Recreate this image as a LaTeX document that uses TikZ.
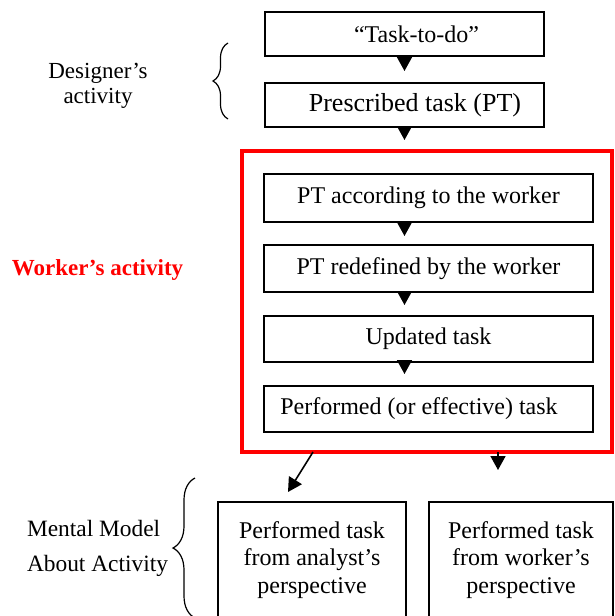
\documentclass[tikz,border=0pt]{standalone}
\usepackage{fontspec}
\setmainfont{Liberation Serif}
\usetikzlibrary{arrows.meta,decorations.pathreplacing}

\begin{document}
\begin{tikzpicture}[x=0.5pt, y=-0.5pt]
		\tikzset{
			every node/.style={
				align=center,
				inner sep=0pt,
				outer sep=0pt,
				font=\fontsize{12}{13.75}\selectfont
			},
			box/.style={
				draw,
				rectangle,
				line width=1pt
			},
			frame/.style={
				draw=red,
				rectangle,
				line width=2.2pt
			},
			line/.style={
				-{Triangle[width=7.5pt,length=7pt]},
				line width=0.8pt
			},
			brace/.style={
				decorate,
				line width=0.6pt
			}
		}

		\useasboundingbox (0,0) rectangle (615,616);
		\clip (0,0) rectangle (615,616);

		\node[frame, minimum width=185pt, minimum height=150.5pt] (frame) at (427,301.5)
			{};

		\node[box, minimum width=139.5pt, minimum height=22pt] (todo) at (404.5,34)
			{\hspace*{12pt}“Task-to-do”};
		\node[box, minimum width=139.5pt, minimum height=22pt,
			font=\fontsize{13}{15}\selectfont] (pt) at (404.5,105)
			{\hspace*{10.5pt}\raisebox{-1.5pt}{Prescribed task (PT)}};

		\node[box, minimum width=164.5pt, minimum height=24pt] (ptw) at (428.5,198)
			{PT according to the worker};
		\node[box, minimum width=164.5pt, minimum height=23.5pt] (ptr) at (428.5,268.5)
			{PT redefined by the worker};
		\node[box, minimum width=164.5pt, minimum height=23pt] (upd) at (428.5,339)
			{Updated task};
		\node[box, minimum width=164.5pt, minimum height=23pt] (perf) at (428.5,409)
			{Performed (or effective) task\hspace*{9.5pt}};

		\node[box, minimum width=94pt, minimum height=59pt] (an) at (312,561)
			{Performed task\\ from analyst’s\\ perspective\\[-10pt]};
		\node[box, minimum width=92pt, minimum height=59pt] (wk) at (521,561)
			{Performed task\\ from worker’s\\ perspective\\[-10pt]};

		\node[font=\fontsize{11.5}{12.5}\selectfont] (designer) at (98,86)
			{Designer’s\\ activity};
		\node[text=red, font=\fontsize{11.5}{13}\selectfont\bfseries] (worker) at (97.5,270)
			{Worker’s activity};
		\node[align=left, anchor=west, font=\fontsize{11.7}{17.5}\selectfont] (mental) at (27,548)
			{Mental Model\\ About Activity};

		\draw[line, shorten >=6pt] (todo) -- (pt);
		\draw[line, shorten >=5.5pt] (pt) -- (frame.north -| pt);

		\draw[line, shorten >=4.5pt] (ptw.south -| pt) -- (ptr.north -| pt);
		\draw[line, shorten >=5.5pt] (ptr.south -| pt) -- (upd.north -| pt);
		\draw[line, shorten >=6pt] (upd.south -| pt) -- (perf.north -| pt);

		\draw[line] ([xshift=0.5pt]an.north |- frame.south) -- ([xshift=-12pt, yshift=5pt]an.north);
		\draw[line, shorten >=16pt] ([xshift=-11.5pt]wk.north |- frame.south) -- ([xshift=-11.5pt]wk.north);

		\draw[brace, decoration={brace, amplitude=7.5pt}] (228,119) -- (228,43);
		\draw[brace, decoration={brace, amplitude=11pt}] (195,618) -- (195,478);

	\end{tikzpicture}
\end{document}
